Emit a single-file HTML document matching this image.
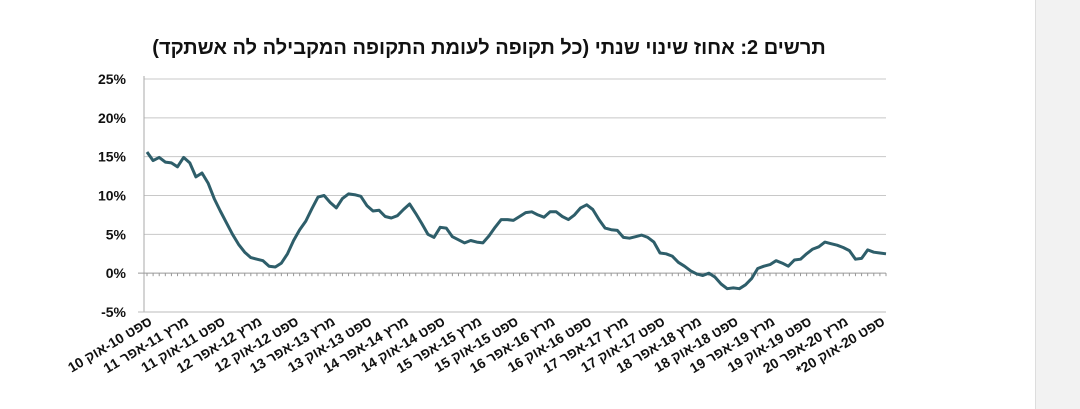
<!DOCTYPE html>
<html><head><meta charset="utf-8">
<style>
body{margin:0;background:#fff;width:1080px;height:409px;overflow:hidden;font-family:"Liberation Sans",sans-serif;}
#side{position:absolute;left:1035px;top:0;width:45px;height:409px;background:#f2f2f2;border-left:1px solid #ddd;}
</style></head>
<body>
<div id="side"></div>
<svg id="chart" width="1080" height="409" style="position:absolute;left:0;top:0">
<text x="489" y="54" text-anchor="middle" font-family="Liberation Sans, sans-serif" font-weight="bold" font-size="20" fill="#111" direction="rtl">תרשים 2: אחוז שינוי שנתי (כל תקופה לעומת התקופה המקבילה לה אשתקד)</text>
</svg>
<script>
const values=[15.6,14.5,14.9,14.3,14.2,13.7,14.9,14.2,12.4,12.9,11.6,9.6,8.0,6.5,5.0,3.7,2.7,2.0,1.8,1.6,0.9,0.8,1.3,2.5,4.2,5.6,6.7,8.3,9.8,10.0,9.1,8.4,9.6,10.2,10.1,9.9,8.7,8.0,8.1,7.3,7.1,7.4,8.2,8.9,7.7,6.4,5.0,4.6,5.9,5.8,4.7,4.3,3.9,4.2,4.0,3.9,4.8,5.9,6.9,6.9,6.8,7.3,7.8,7.9,7.5,7.2,7.9,7.9,7.3,6.9,7.5,8.4,8.8,8.2,6.9,5.8,5.6,5.5,4.6,4.5,4.7,4.9,4.6,4.0,2.6,2.5,2.2,1.4,0.9,0.3,-0.1,-0.3,0.0,-0.5,-1.4,-2.0,-1.9,-2.0,-1.5,-0.7,0.6,0.9,1.1,1.6,1.3,0.9,1.7,1.8,2.5,3.1,3.4,4.0,3.8,3.6,3.3,2.9,1.8,1.9,3.0,2.7,2.6,2.5];
const yTicks=[25,20,15,10,5,0,-5];
const yTickLabels=["25%","20%","15%","10%","5%","0%","-5%"];
const xLabels=["ספט 10-אוק 10","מרץ 11-אפר 11","ספט 11-אוק 11","מרץ 12-אפר 12","ספט 12-אוק 12","מרץ 13-אפר 13","ספט 13-אוק 13","מרץ 14-אפר 14","ספט 14-אוק 14","מרץ 15-אפר 15","ספט 15-אוק 15","מרץ 16-אפר 16","ספט 16-אוק 16","מרץ 17-אפר 17","ספט 17-אוק 17","מרץ 18-אפר 18","ספט 18-אוק 18","מרץ 19-אפר 19","ספט 19-אוק 19","מרץ 20-אפר 20","ספט 20-אוק 20*"];
const labelStep=6;
const NS="http://www.w3.org/2000/svg";
const svg=document.getElementById('chart');
const x0=147,x1=886,yTop=79,yBot=312,vMax=25,vMin=-5;
function xs(i){return x0+(x1-x0)*i/(values.length-1);}
function ys(v){return yTop+(vMax-v)*(yBot-yTop)/(vMax-vMin);}
function mk(t,a){const e=document.createElementNS(NS,t);for(const k in a)e.setAttribute(k,a[k]);svg.appendChild(e);return e;}
yTicks.forEach((v,i)=>{
  if(v!==0&&v!==vMin){const g=mk('line',{x1:144,x2:886,y1:ys(v),y2:ys(v),stroke:'#c8c8c8','stroke-width':1});
  
  }
  const t=mk('text',{x:126,y:ys(v)+5,'text-anchor':'end','font-size':14,'font-weight':'bold',fill:'#111'});
  
  
  t.textContent=yTickLabels[i];
});
const ax=mk('line',{x1:144,x2:144,y1:yTop-3,y2:yBot,stroke:'#aaa','stroke-width':1});


const bl=mk('line',{x1:138,x2:886,y1:yBot,y2:yBot,stroke:'#bbb','stroke-width':1});


const zl=mk('line',{x1:138,x2:886,y1:ys(0),y2:ys(0),stroke:'#999','stroke-width':1});


for(let i=0;i<values.length;i++){
  const tk=mk('line',{x1:xs(i),x2:xs(i),y1:ys(0),y2:ys(0)+3,stroke:'#999','stroke-width':1});
  
  
}
const d=values.map((v,i)=>(i?'L':'M')+xs(i).toFixed(1)+','+ys(v).toFixed(1)).join('');
const p=mk('path',{d:d,fill:'none',stroke:'#2e5e6a','stroke-width':3,'stroke-linejoin':'round'});


xLabels.forEach((s,k)=>{
  const x=xs(k*labelStep)+6,y=324;
  const t=mk('text',{x:x,y:y,'text-anchor':'start','font-size':14,'font-weight':'bold',fill:'#111',direction:'rtl',style:'direction:rtl;unicode-bidi:embed',transform:'rotate(-31 '+x+' '+y+')'});
  
  
  t.textContent=s;
});
</script>
</body></html>
